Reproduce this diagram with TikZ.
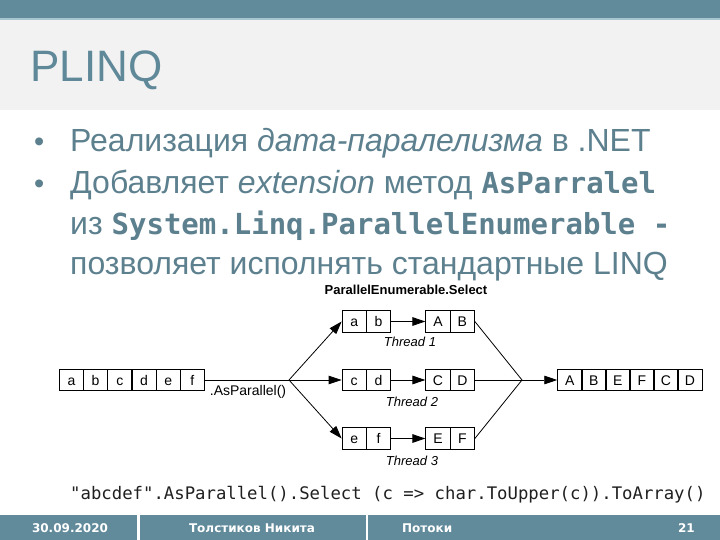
\documentclass[tikz,border=0pt]{standalone}
\usepackage{fontspec}
\setmainfont{Liberation Sans}
\newfontfamily\codefont{DejaVu Sans Mono}
\newfontfamily\footfont{DejaVu Sans}
\usetikzlibrary{arrows.meta}
\definecolor{barcol}{HTML}{618A9B}
\definecolor{stripcol}{HTML}{A8C4CF}
\definecolor{bandcol}{HTML}{F2F2F2}
\definecolor{titlecol}{HTML}{5F8899}
\definecolor{bodycol}{HTML}{5D808F}
\definecolor{codecol}{HTML}{202020}
\tikzset{
  body/.style={anchor=base west, inner sep=0pt, text=bodycol, font=\fontsize{32}{32}\selectfont},
  mono/.style={font=\codefont\bfseries\fontsize{29}{29}\selectfont},
  cell/.style={draw, line width=0.8pt, minimum width=24.3pt, minimum height=21.5pt, inner sep=0pt, text height=10pt, text depth=0pt, font=\fontsize{14}{14}\selectfont},
  thin/.style={line width=0.8pt},
  arr/.style={line width=0.8pt, -{Triangle[length=13pt,width=8.5pt]}},
  thread/.style={font=\fontsize{13}{13}\selectfont\itshape, inner sep=0pt},
  foot/.style={anchor=base, inner sep=0pt, text=white, font=\footfont\bfseries\fontsize{12}{12}\selectfont}
}
\newcommand{\mcode}[1]{{\codefont\bfseries\fontsize{29}{29}\selectfont #1}}
\begin{document}
\begin{tikzpicture}[x=1pt,y=-1pt]
\useasboundingbox (0,0) rectangle (720,540);
\fill[white] (0,0) rectangle (720,540);
\fill[barcol] (0,0) rectangle (720,18);
\fill[stripcol] (0,18) rectangle (720,20);
\fill[bandcol] (0,20) rectangle (720,110);
\node[anchor=base west, inner sep=0pt, text=titlecol, font=\fontsize{44}{44}\selectfont] (title) at (30,82) {PLINQ};
% bullets
\node[body, font=\fontsize{29}{29}\selectfont] (dot1) at (34,152) {•};
\node[body] (l1) at (70,152) {Реализация \textit{дата-паралелизма} в .NET};
\node[body, font=\fontsize{29}{29}\selectfont] (dot2) at (34,194) {•};
\node[body] (l2) at (70,194) {Добавляет \textit{extension} метод \mcode{AsParralel}};
\node[body] (l3) at (70,235) {из \mcode{System.Linq.ParallelEnumerable -}};
\node[body] (l4) at (70,274) {позволяет исполнять стандартные LINQ};
% diagram
\node[font=\fontsize{13}{13}\selectfont\bfseries, inner sep=0pt] (sel) at (406,290) {ParallelEnumerable.Select};
\foreach \t [count=\i from 0] in {a,b,c,d,e,f}
  \node[cell] (l\t) at (71.4+24.2*\i,380) {\t};
\node[cell] (t1a) at (354.2,321.5) {a};
\node[cell] (t1b) at (378.5,321.5) {b};
\node[cell] (u1a) at (438,321.5) {A};
\node[cell] (u1b) at (462.3,321.5) {B};
\node[cell] (t2a) at (354.2,380) {c};
\node[cell] (t2b) at (378.5,380) {d};
\node[cell] (u2a) at (438,380) {C};
\node[cell] (u2b) at (462.3,380) {D};
\node[cell] (t3a) at (354.2,438.5) {e};
\node[cell] (t3b) at (378.5,438.5) {f};
\node[cell] (u3a) at (438,438.5) {E};
\node[cell] (u3b) at (462.3,438.5) {F};
\foreach \t [count=\i from 0] in {A,B,E,F,C,D}
  \node[cell] (r\i) at (569.8+24*\i,380) {\t};
\node[thread] (th1) at (410,342) {Thread 1};
\node[thread] (th2) at (412,402) {Thread 2};
\node[thread] (th3) at (412,461) {Thread 3};
\node[font=\fontsize{14}{14}\selectfont, inner sep=0pt] (asp) at (248,392) {.AsParallel()};
\coordinate (split) at (289,380);
\coordinate (merge) at (522,380);
\draw[thin] (lf.east) -- (split);
\draw[arr] (split) -- (t1a.west);
\draw[arr] (split) -- (t2a.west);
\draw[arr] (split) -- (t3a.west);
\draw[arr] (t1b.east) -- (u1a.west);
\draw[arr] (t2b.east) -- (u2a.west);
\draw[arr] (t3b.east) -- (u3a.west);
\draw[thin] (u1b.east) -- (merge);
\draw[thin] (u2b.east) -- (merge);
\draw[thin] (u3b.east) -- (merge);
\draw[arr] (merge) -- (r0.west);
% code
\node[anchor=base west, inner sep=0pt, text=codecol, font=\codefont\fontsize{17.3}{17.3}\selectfont] (code) at (70,499) {"abcdef".AsParallel().Select (c => char.ToUpper(c)).ToArray()};
% footer
\fill[barcol] (0,515) rectangle (720,540);
\fill[white] (137,515) rectangle (140,540);
\fill[white] (366,515) rectangle (368,540);
\node[foot] (date) at (70,532) {30.09.2020};
\node[foot] (author) at (252,532) {Толстиков Никита};
\node[foot, anchor=base west] (topic) at (402,532) {Потоки};
\node[foot, anchor=base east] (page) at (695,532) {21};
\end{tikzpicture}
\end{document}
